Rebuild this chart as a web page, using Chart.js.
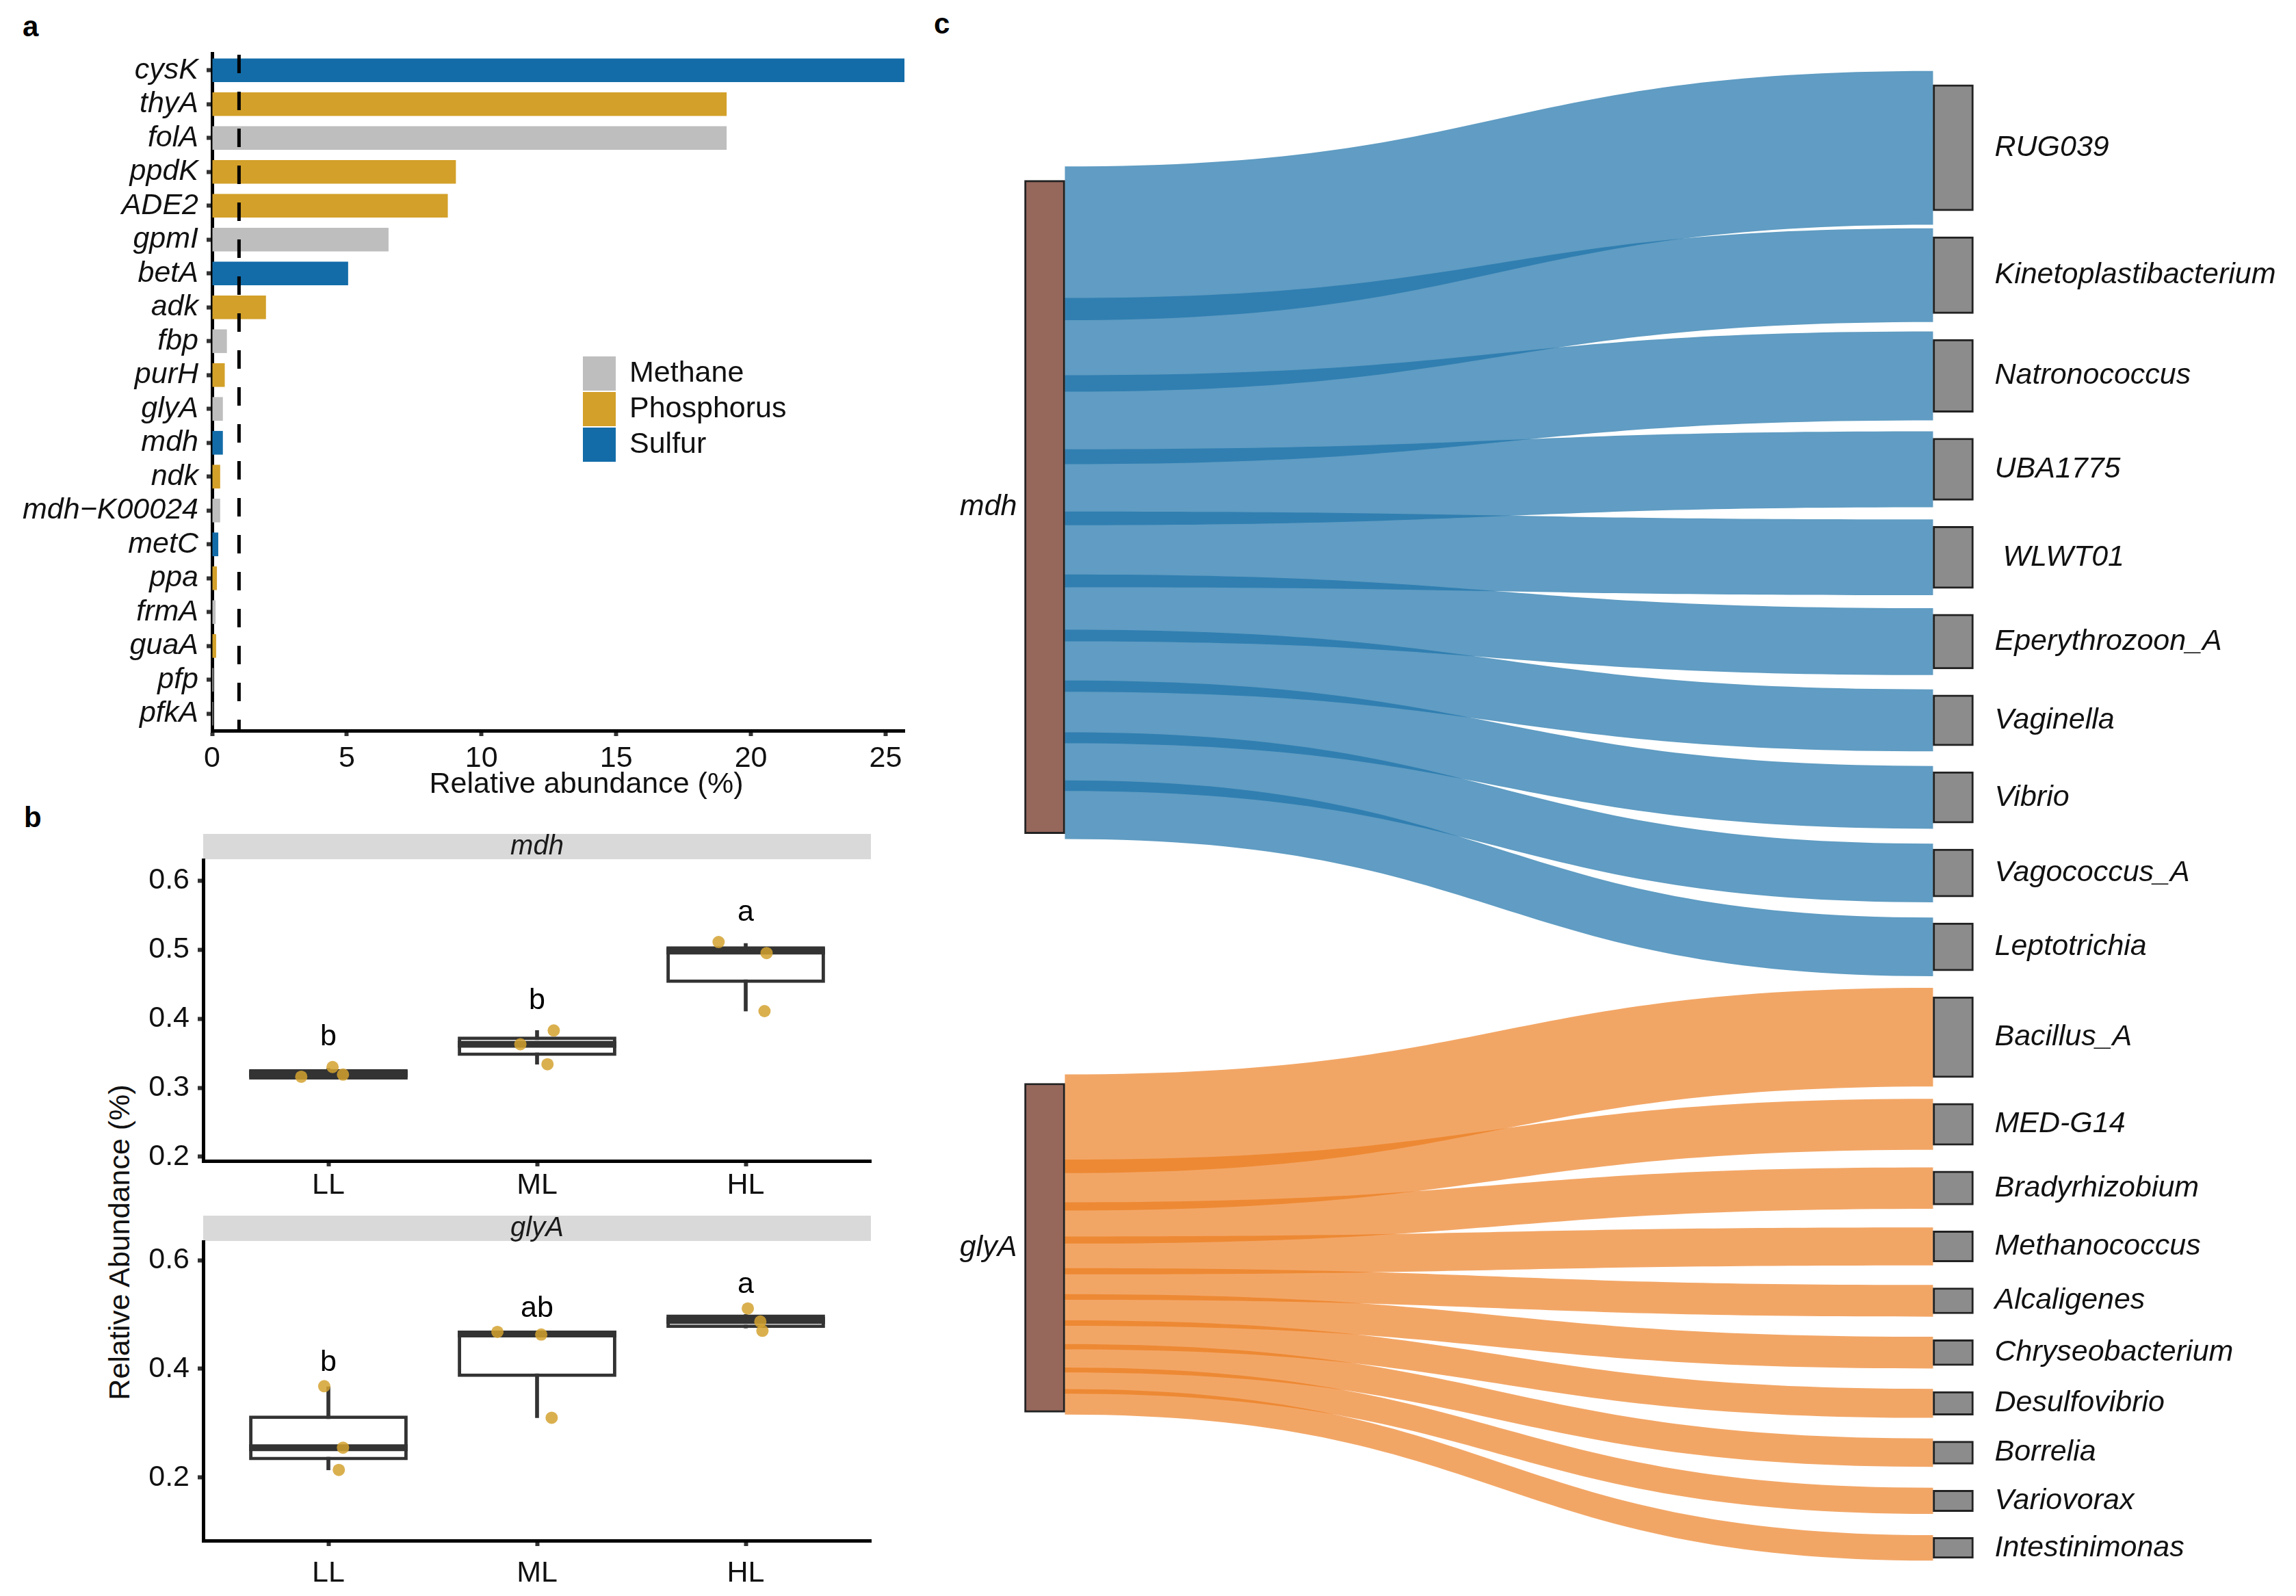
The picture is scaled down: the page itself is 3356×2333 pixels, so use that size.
<!DOCTYPE html>
<html>
<head>
<meta charset="utf-8">
<script src="https://cdn.jsdelivr.net/npm/chart.js@4.4.1/dist/chart.umd.min.js"></script>
<style>
  html, body { margin: 0; padding: 0; background: #fff; }
  #page { position: relative; width: 3356px; height: 2333px; overflow: hidden; font-family: 'Liberation Sans', Arial, sans-serif; }
  canvas { position: absolute; }
  .tag { position: absolute; font-weight: bold; font-size: 42px; line-height: 42px; color: #000; }
  #yTitleB { position: absolute; left: 174px; top: 1816px; font-size: 43px; line-height: 43px; color: #111;
             white-space: nowrap; transform: translate(-50%, -50%) rotate(-90deg); }
</style>
</head>
<body>
<div id="page">
  <div class="tag" style="left:33px;top:18px">a</div>
  <div class="tag" style="left:35px;top:1174px">b</div>
  <div class="tag" style="left:1365px;top:14px">c</div>
  <div id="yTitleB">Relative Abundance (%)</div>
  <canvas id="chartA" width="1360" height="1180" style="left:0;top:0"></canvas>
  <canvas id="chartMdh" width="1360" height="580" style="left:0;top:1190px"></canvas>
  <canvas id="chartGlyA" width="1360" height="573" style="left:0;top:1760px"></canvas>
  <canvas id="chartC" width="1976" height="2333" style="left:1380px;top:0"></canvas>
</div>
<script>
// ---- panel a: gene abundance ----
const GENES = ['cysK', 'thyA', 'folA', 'ppdK', 'ADE2', 'gpmI', 'betA', 'adk', 'fbp', 'purH',
  'glyA', 'mdh', 'ndk', 'mdh\u2212K00024', 'metC', 'ppa', 'frmA', 'guaA', 'pfp', 'pfkA'];
const ABUNDANCE = [25.7, 19.1, 19.1, 9.05, 8.75, 6.55, 5.05, 2.0, 0.55, 0.47,
  0.4, 0.4, 0.3, 0.3, 0.23, 0.18, 0.13, 0.15, 0.05, 0.04];
const GENE_CYCLE = ['Sulfur', 'Phosphorus', 'Methane', 'Phosphorus', 'Phosphorus', 'Methane', 'Sulfur', 'Phosphorus', 'Methane', 'Phosphorus',
  'Methane', 'Sulfur', 'Phosphorus', 'Methane', 'Sulfur', 'Phosphorus', 'Methane', 'Phosphorus', 'Methane', 'Methane'];
const CYCLES = ['Methane', 'Phosphorus', 'Sulfur'];
const CYCLE_COLORS = ['#BEBEBE', '#D3A029', '#136CA8'];
const CUTOFF = 1;
const X_TICKS_A = [0, 5, 10, 15, 20, 25];
const X_MAX_A = 25.7;

// ---- panel b: box plots ----
const GROUPS = ['LL', 'ML', 'HL'];
const MDH_MIN = [0.314, 0.334, 0.411];
const MDH_Q1 = [0.312, 0.346, 0.452];
const MDH_MEDIAN = [0.320, 0.363, 0.498];
const MDH_Q3 = [0.327, 0.374, 0.505];
const MDH_MAX = [0.328, 0.383, 0.509];
const MDH_POINT_GROUP = [1, 1, 1, 2, 2, 2, 3, 3, 3];
const MDH_POINT_JITTER = [-0.13, 0.02, 0.07, -0.08, 0.08, 0.05, -0.13, 0.1, 0.09];
const MDH_POINTS = [0.316, 0.330, 0.319, 0.363, 0.383, 0.334, 0.511, 0.495, 0.411];
const MDH_LETTERS = ['b', 'b', 'a'];

const GLYA_MIN = [0.214, 0.310, 0.475];
const GLYA_Q1 = [0.232, 0.385, 0.475];
const GLYA_MEDIAN = [0.255, 0.464, 0.489];
const GLYA_Q3 = [0.314, 0.470, 0.500];
const GLYA_MAX = [0.367, 0.468, 0.500];
const GLYA_POINT_GROUP = [1, 1, 1, 2, 2, 2, 3, 3, 3];
const GLYA_POINT_JITTER = [-0.02, 0.07, 0.05, -0.19, 0.02, 0.07, 0.01, 0.07, 0.08];
const GLYA_POINTS = [0.368, 0.255, 0.214, 0.468, 0.463, 0.310, 0.511, 0.487, 0.470];
const GLYA_LETTERS = ['b', 'ab', 'a'];
const LETTER_GAP = 0.043;

// ---- panel c: sankey ----
const SOURCES = ['mdh', 'glyA'];
const MDH_TAXA = ['RUG039', 'Kinetoplastibacterium', 'Natronococcus', 'UBA1775', ' WLWT01',
  'Eperythrozoon_A', 'Vaginella', 'Vibrio', 'Vagococcus_A', 'Leptotrichia'];
const MDH_FLOW = [22.3, 13.6, 12.9, 11.0, 11.0, 9.7, 9.0, 9.1, 8.5, 8.5];
const GLYA_TAXA = ['Bacillus_A', 'MED-G14', 'Bradyrhizobium', 'Methanococcus', 'Alcaligenes',
  'Chryseobacterium', 'Desulfovibrio', 'Borrelia', 'Variovorax', 'Intestinimonas'];
const GLYA_FLOW = [14.3, 7.4, 6.0, 5.5, 4.6, 4.6, 4.2, 4.1, 3.8, 3.7];
const LINK_COLORS = ['rgba(29,114,170,0.7)', 'rgba(236,124,30,0.68)'];

const FONT = "'Liberation Sans', Arial, Helvetica, sans-serif";
Chart.defaults.font.family = FONT;
Chart.defaults.font.size = 43;
Chart.defaults.color = '#111';
Chart.defaults.animation = false;
Chart.defaults.responsive = false;
Chart.defaults.plugins.legend.display = false;
Chart.defaults.plugins.tooltip.enabled = false;

function fixedWidth(w) { return function (scale) { scale.width = w; }; }
function fixedHeight(h) { return function (scale) { scale.height = h; }; }
function fixedTicks(values) { return function (scale) { scale.ticks = values.map(v => ({value: v})); }; }

const axisGrid = {drawOnChartArea: false, tickLength: 8, tickWidth: 6, tickColor: '#333', offset: false};
const axisBorder = {display: true, color: '#000', width: 5};

// ---------------- panel a ----------------
const cutoffLine = {
  id: 'cutoffLine',
  afterDatasetsDraw(chart) {
    const {ctx, chartArea, scales} = chart;
    const x = scales.x.getPixelForValue(CUTOFF);
    ctx.save();
    ctx.strokeStyle = '#000';
    ctx.lineWidth = 5;
    ctx.setLineDash([27, 27]);
    ctx.beginPath();
    ctx.moveTo(x, chartArea.top + 2);
    ctx.lineTo(x, chartArea.bottom);
    ctx.stroke();
    ctx.restore();
  }
};

const cycleLegend = {
  id: 'cycleLegend',
  afterDraw(chart) {
    const ctx = chart.ctx;
    ctx.save();
    ctx.font = '43px ' + FONT;
    ctx.textBaseline = 'middle';
    ctx.textAlign = 'left';
    chart.data.datasets.forEach((ds, i) => {
      const top = 521 + i * 52;
      ctx.fillStyle = ds.backgroundColor;
      ctx.fillRect(852, top, 48, 50);
      ctx.fillStyle = '#111';
      ctx.fillText(ds.label, 920, top + 25);
    });
    ctx.restore();
  }
};

const xTitleA = {
  id: 'xTitleA',
  afterDraw(chart) {
    const ctx = chart.ctx;
    ctx.save();
    ctx.font = '43px ' + FONT;
    ctx.fillStyle = '#111';
    ctx.textAlign = 'center';
    ctx.textBaseline = 'middle';
    ctx.fillText('Relative abundance (%)', 857, 1147);
    ctx.restore();
  }
};

new Chart(document.getElementById('chartA'), {
  type: 'bar',
  data: {
    labels: GENES,
    datasets: CYCLES.map((cycle, c) => ({
      label: cycle,
      data: ABUNDANCE.map((v, i) => GENE_CYCLE[i] === cycle ? v : null),
      backgroundColor: CYCLE_COLORS[c],
      grouped: false,
      barPercentage: 0.7,
      categoryPercentage: 1,
    })),
  },
  options: {
    indexAxis: 'y',
    layout: {padding: {top: 78, right: 38, left: 0, bottom: 0}},
    scales: {
      x: {
        type: 'linear', min: 0, max: X_MAX_A, offset: false,
        afterFit: fixedHeight(112),
        afterBuildTicks: fixedTicks(X_TICKS_A),
        ticks: {padding: 7, color: '#111'},
        grid: axisGrid, border: axisBorder,
      },
      y: {
        afterFit: fixedWidth(310),
        ticks: {padding: 12, color: '#111', autoSkip: false, font: {style: 'italic'}},
        grid: axisGrid, border: axisBorder,
      },
    },
  },
  plugins: [cutoffLine, cycleLegend, xTitleA],
});

// ---------------- panel b ----------------
function boxChart(canvasId, gene, s, yMin, yMax, yTicks, layout) {
  const maxPoint = GROUPS.map((g, k) =>
    Math.max(...s.points.filter((v, i) => s.group[i] === k + 1)));

  const extras = {
    id: 'boxExtras_' + gene,
    beforeDraw(chart) {
      const {ctx, chartArea} = chart;
      ctx.save();
      ctx.fillStyle = '#D9D9D9';
      ctx.fillRect(chartArea.left, chartArea.top - 38, chartArea.right - chartArea.left, 37);
      ctx.fillStyle = '#1A1A1A';
      ctx.font = 'italic 40px ' + FONT;
      ctx.textAlign = 'center';
      ctx.textBaseline = 'middle';
      ctx.fillText(gene, (chartArea.left + chartArea.right) / 2, chartArea.top - 19);
      ctx.restore();
    },
    afterDatasetDraw(chart, args) {
      if (args.index !== 1) return;
      const {ctx, scales} = chart;
      ctx.save();
      ctx.strokeStyle = '#333';
      ctx.lineWidth = 10;
      args.meta.data.forEach((bar, i) => {
        const py = scales.y.getPixelForValue(s.median[i]);
        ctx.beginPath();
        ctx.moveTo(bar.x - bar.width / 2, py);
        ctx.lineTo(bar.x + bar.width / 2, py);
        ctx.stroke();
      });
      ctx.restore();
    },
    afterDatasetsDraw(chart) {
      const {ctx, scales} = chart;
      ctx.save();
      ctx.font = '43px ' + FONT;
      ctx.fillStyle = '#000';
      ctx.textAlign = 'center';
      ctx.textBaseline = 'middle';
      s.letters.forEach((t, k) => {
        ctx.fillText(t, scales.x.getPixelForValue(k + 1), scales.y.getPixelForValue(maxPoint[k] + LETTER_GAP));
      });
      ctx.restore();
    },
  };

  return new Chart(document.getElementById(canvasId), {
    type: 'bar',
    data: {
      datasets: [
        {
          label: 'whisker',
          data: GROUPS.map((g, i) => ({x: i + 1, y: [s.min[i], s.max[i]]})),
          backgroundColor: '#333',
          barThickness: 5,
          grouped: false,
          order: 3,
        },
        {
          label: 'box',
          data: GROUPS.map((g, i) => ({x: i + 1, y: [s.q1[i], s.q3[i]]})),
          backgroundColor: '#fff',
          borderColor: '#333',
          borderWidth: 5,
          borderSkipped: false,
          barPercentage: 0.76,
          categoryPercentage: 1,
          grouped: false,
          order: 2,
        },
        {
          type: 'scatter',
          label: 'samples',
          data: s.points.map((v, i) => ({x: s.group[i] + s.jitter[i], y: v})),
          backgroundColor: 'rgba(212,162,48,0.85)',
          borderWidth: 0,
          pointRadius: 9,
          order: 1,
        },
      ],
    },
    options: {
      layout: {padding: {top: layout.top, right: 87, left: 0, bottom: 0}},
      scales: {
        x: {
          type: 'linear', min: 0.4, max: 3.6, offset: false,
          afterFit: fixedHeight(layout.xHeight),
          afterBuildTicks: fixedTicks([1, 2, 3]),
          ticks: {padding: layout.xPad, color: '#111', callback: v => GROUPS[v - 1]},
          grid: axisGrid, border: axisBorder,
        },
        y: {
          min: yMin, max: yMax,
          afterFit: fixedWidth(297),
          afterBuildTicks: fixedTicks(yTicks),
          ticks: {padding: 12, color: '#111', callback: v => v.toFixed(1)},
          grid: axisGrid, border: axisBorder,
        },
      },
    },
    plugins: [extras],
  });
}

boxChart('chartMdh', 'mdh', {
  min: MDH_MIN, q1: MDH_Q1, median: MDH_MEDIAN, q3: MDH_Q3, max: MDH_MAX,
  group: MDH_POINT_GROUP, jitter: MDH_POINT_JITTER, points: MDH_POINTS, letters: MDH_LETTERS,
}, 0.194, 0.630, [0.2, 0.3, 0.4, 0.5, 0.6], {top: 67, xHeight: 73, xPad: 2});

boxChart('chartGlyA', 'glyA', {
  min: GLYA_MIN, q1: GLYA_Q1, median: GLYA_MEDIAN, q3: GLYA_Q3, max: GLYA_MAX,
  group: GLYA_POINT_GROUP, jitter: GLYA_POINT_JITTER, points: GLYA_POINTS, letters: GLYA_LETTERS,
}, 0.084, 0.634, [0.2, 0.4, 0.6], {top: 55, xHeight: 81, xPad: 14});

// ---------------- panel c ----------------
const NODE_SCALE = 0.82;   // node height relative to ribbon width
const NODE_GAP = 3.75;     // gap between target nodes, in flow units
const groups = [
  {name: SOURCES[0], taxa: MDH_TAXA, flow: MDH_FLOW},
  {name: SOURCES[1], taxa: GLYA_TAXA, flow: GLYA_FLOW},
];

const targets = [];
let cursor = 0;
groups.forEach((g, gi) => {
  g.flow.forEach((v, i) => {
    const h = NODE_SCALE * v;
    targets.push({label: g.taxa[i], group: gi, flow: v, top: cursor, bottom: cursor + h, center: cursor + h / 2});
    cursor += h + NODE_GAP;
  });
});
const columnEnd = cursor - NODE_GAP;

const sources = groups.map((g, gi) => {
  const mine = targets.filter(t => t.group === gi);
  const total = mine.reduce((a, t) => a + t.flow, 0);
  const center = mine.reduce((a, t) => a + t.flow * t.center, 0) / total;
  const h = NODE_SCALE * total;
  return {label: g.name, top: center - h / 2, bottom: center + h / 2};
});

const links = [];
groups.forEach((g, gi) => {
  let cum = 0;
  targets.forEach((t, ti) => {
    if (t.group !== gi) return;
    const sc = sources[gi].top + NODE_SCALE * (cum + t.flow / 2);
    links.push({source: gi, target: ti, s0: sc - t.flow / 2, s1: sc + t.flow / 2,
      t0: t.center - t.flow / 2, t1: t.center + t.flow / 2});
    cum += t.flow;
  });
});

const ribbons = {
  id: 'ribbons',
  beforeDatasetsDraw(chart) {
    const {ctx, scales} = chart;
    const srcBars = chart.getDatasetMeta(0).data;
    const tgtBars = chart.getDatasetMeta(1).data;
    ctx.save();
    links.forEach(l => {
      const sb = srcBars[l.source], tb = tgtBars[l.target];
      const x0 = sb.x + sb.width / 2, x1 = tb.x - tb.width / 2, xm = (x0 + x1) / 2;
      const ys0 = scales.y.getPixelForValue(l.s0), ys1 = scales.y.getPixelForValue(l.s1);
      const yt0 = scales.y.getPixelForValue(l.t0), yt1 = scales.y.getPixelForValue(l.t1);
      ctx.fillStyle = LINK_COLORS[l.source];
      ctx.beginPath();
      ctx.moveTo(x0, ys0);
      ctx.bezierCurveTo(xm, ys0, xm, yt0, x1, yt0);
      ctx.lineTo(x1, yt1);
      ctx.bezierCurveTo(xm, yt1, xm, ys1, x0, ys1);
      ctx.closePath();
      ctx.fill();
    });
    ctx.restore();
  },
  afterDatasetsDraw(chart) {
    const ctx = chart.ctx;
    ctx.save();
    ctx.font = 'italic 43px ' + FONT;
    ctx.fillStyle = '#111';
    ctx.textBaseline = 'middle';
    ctx.textAlign = 'right';
    chart.getDatasetMeta(0).data.forEach((b, i) => {
      ctx.fillText(sources[i].label, b.x - b.width / 2 - 11, (b.y + b.base) / 2);
    });
    ctx.textAlign = 'left';
    chart.getDatasetMeta(1).data.forEach((b, i) => {
      ctx.fillText(targets[i].label, b.x + b.width / 2 + 31, (b.y + b.base) / 2);
    });
    ctx.restore();
  },
};

new Chart(document.getElementById('chartC'), {
  type: 'bar',
  data: {
    datasets: [
      {
        label: 'genes',
        data: sources.map(s => ({x: 0, y: [s.top, s.bottom]})),
        backgroundColor: '#96675B',
        borderColor: '#222',
        borderWidth: 3,
        borderSkipped: false,
        barThickness: 59,
        grouped: false,
      },
      {
        label: 'genera',
        data: targets.map(t => ({x: 1, y: [t.top, t.bottom]})),
        backgroundColor: '#8C8C8C',
        borderColor: '#222',
        borderWidth: 3,
        borderSkipped: false,
        barThickness: 59,
        grouped: false,
      },
    ],
  },
  options: {
    layout: {padding: 0},
    scales: {
      x: {type: 'linear', display: false, offset: false, min: -0.1107, max: 1.3773},
      y: {type: 'linear', display: false, reverse: true, min: -12.3, max: columnEnd + 5.46},
    },
  },
  plugins: [ribbons],
});
</script>
</body>
</html>
